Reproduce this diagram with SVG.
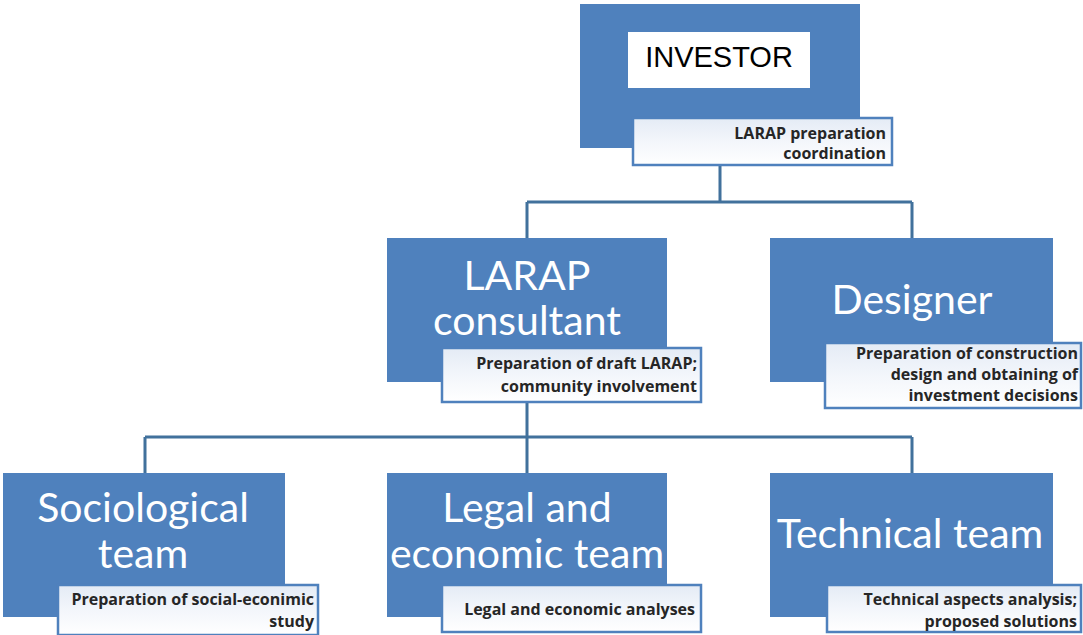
<svg xmlns="http://www.w3.org/2000/svg" width="1083" height="635" viewBox="0 0 1083 635">
  <defs>
    <linearGradient id="noteFill" x1="0" y1="0" x2="0" y2="1">
      <stop offset="0" stop-color="#e4ebf5"/>
      <stop offset="0.5" stop-color="#f3f6fb"/>
      <stop offset="1" stop-color="#ffffff"/>
    </linearGradient>
    <style>
      .box { fill: #4f81bd; }
      .note { fill: url(#noteFill); stroke: #4f81bd; stroke-width: 2.5; }
      .title { font-family: Lato, "Open Sans", sans-serif; font-size: 41px; fill: #ffffff; text-anchor: middle; }
      .noteText { font-family: "Open Sans", Lato, sans-serif; font-weight: bold; font-size: 16px; fill: #262626; text-anchor: end; }
      .link { fill: none; stroke: #41719c; stroke-width: 3; }
    </style>
  </defs>
  <rect width="1083" height="635" fill="#ffffff"/>

  <!-- connectors -->
  <g id="connectors">
    <path class="link" d="M720,165 V202 M527,202 H912 M527,202 V238 M912,202 V238"/>
    <path class="link" d="M527,402 V437 M145,437 H912 M145,437 V473 M527,437 V473 M912,437 V473"/>
  </g>

  <!-- top level -->
  <g id="investor">
    <rect class="box" x="580" y="4" width="280" height="144"/>
    <rect x="628" y="32" width="182" height="56" fill="#ffffff"/>
    <text x="719" y="67" font-family="Liberation Sans, Arial, sans-serif" font-size="29" fill="#000000" text-anchor="middle">INVESTOR</text>
    <rect class="note" x="633" y="118" width="259" height="47"/>
    <text class="noteText" x="886" y="139">LARAP preparation</text>
    <text class="noteText" x="886" y="159">coordination</text>
  </g>

  <!-- second level -->
  <g id="larap-consultant">
    <rect class="box" x="387" y="238" width="280" height="144"/>
    <text class="title" x="527" y="290">LARAP</text>
    <text class="title" x="527" y="335">consultant</text>
    <rect class="note" x="442" y="348" width="259" height="54"/>
    <text class="noteText" x="697" y="369">Preparation of draft LARAP;</text>
    <text class="noteText" x="697" y="392">community involvement</text>
  </g>

  <g id="designer">
    <rect class="box" x="770" y="238" width="283" height="144"/>
    <text class="title" x="912" y="314">Designer</text>
    <rect class="note" x="825" y="343" width="256" height="65"/>
    <text class="noteText" x="1078" y="359">Preparation of construction</text>
    <text class="noteText" x="1078" y="380">design and obtaining of</text>
    <text class="noteText" x="1078" y="401">investment decisions</text>
  </g>

  <!-- third level -->
  <g id="sociological-team">
    <rect class="box" x="3" y="473" width="282" height="144"/>
    <text class="title" x="143" y="522">Sociological</text>
    <text class="title" x="143" y="568">team</text>
    <rect class="note" x="58" y="585" width="260" height="50"/>
    <text class="noteText" x="314" y="605">Preparation of social-econimic</text>
    <text class="noteText" x="314" y="627">study</text>
  </g>

  <g id="legal-economic-team">
    <rect class="box" x="387" y="473" width="280" height="144"/>
    <text class="title" x="527" y="522">Legal and</text>
    <text class="title" x="527" y="568">economic team</text>
    <rect class="note" x="442" y="585" width="259" height="47"/>
    <text class="noteText" x="695" y="615">Legal and economic analyses</text>
  </g>

  <g id="technical-team">
    <rect class="box" x="770" y="473" width="283" height="144"/>
    <text class="title" x="910" y="548">Technical team</text>
    <rect class="note" x="827" y="585" width="254" height="47"/>
    <text class="noteText" x="1077" y="605">Technical aspects analysis;</text>
    <text class="noteText" x="1077" y="627">proposed solutions</text>
  </g>
</svg>
